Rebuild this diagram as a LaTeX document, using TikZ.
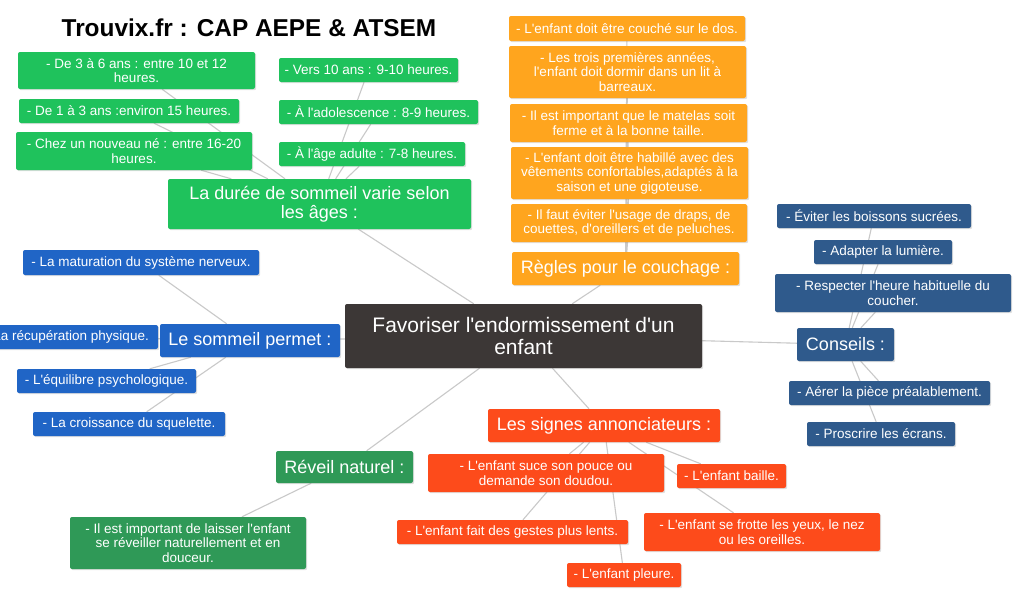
\documentclass[tikz,border=0pt]{standalone}
\usepackage{fontspec}
\setmainfont{Liberation Sans}[Ligatures=TeXOff]
\usepackage{tikz}
\usepackage{xcolor}
\usetikzlibrary{shadows, backgrounds}
\definecolor{agegreen}{HTML}{1FC25C}
\definecolor{bedorange}{HTML}{FFA51E}
\definecolor{tipblue}{HTML}{2F5A8C}
\definecolor{sleepblue}{HTML}{2065C6}
\definecolor{signred}{HTML}{FD4B1B}
\definecolor{wakegreen}{HTML}{2F9957}
\definecolor{rootgray}{HTML}{3C3736}
\definecolor{linegray}{HTML}{C9C9C9}

\begin{document}
\begin{tikzpicture}[x=1pt, y=-1pt,
    box/.style={rounded corners=2pt, inner sep=0pt, align=center, text=white,
      font=\fontsize{13.5}{14.5}\selectfont,
      drop shadow={shadow xshift=1.2pt, shadow yshift=-1.2pt, opacity=0.25}},
    hub/.style={box, font=\fontsize{18}{19.5}\selectfont},
    wh/.style 2 args={minimum width=#1pt, minimum height=#2pt},
    link/.style={draw=linegray, line width=1.1pt}]
    \useasboundingbox (0,0) rectangle (1024,598);

    \node[font=\fontsize{24.4}{26}\selectfont\bfseries] (title) at (249,28) {Trouvix.fr : CAP AEPE \& ATSEM};

    % root
    \node[box, fill=rootgray, wh={357}{64}, font=\fontsize{21}{21.5}\selectfont] (root) at (523.5,336)
      {Favoriser l'endormissement d'un\\enfant};

    % durée du sommeil
    \node[hub, fill=agegreen, wh={303}{50}] (gmain) at (319.5,204) {La durée de sommeil varie selon\\les âges :};
    \node[box, fill=agegreen, wh={237}{37}] (g1) at (136.5,70.5) {- De 3 à 6 ans : entre 10 et 12\\heures.};
    \node[box, fill=agegreen, wh={220}{24}] (g2) at (129,111) {- De 1 à 3 ans :environ 15 heures.};
    \node[box, fill=agegreen, wh={236}{38}] (g3) at (134,151) {- Chez un nouveau né : entre 16-20\\heures.};
    \node[box, fill=agegreen, wh={179}{24}] (g4) at (368.5,70) {- Vers 10 ans : 9-10 heures.};
    \node[box, fill=agegreen, wh={199}{24}] (g5) at (378.5,112) {- À l'adolescence : 8-9 heures.};
    \node[box, fill=agegreen, wh={186}{24}] (g6) at (372,154) {- À l'âge adulte : 7-8 heures.};

    % couchage
    \node[hub, fill=bedorange, wh={227}{33}] (omain) at (625.5,268.5) {Règles pour le couchage :};
    \node[box, fill=bedorange, wh={236}{25}] (o1) at (627,28.5) {- L'enfant doit être couché sur le dos.};
    \node[box, fill=bedorange, wh={237}{52}] (o2) at (627.5,72) {- Les trois premières années,\\l'enfant doit dormir dans un lit à\\barreaux.};
    \node[box, fill=bedorange, wh={237}{38}] (o3) at (628.5,123) {- Il est important que le matelas soit\\ferme et à la bonne taille.};
    \node[box, fill=bedorange, wh={237}{52}] (o4) at (629.5,173) {- L'enfant doit être habillé avec des\\vêtements confortables,adaptés à la\\saison et une gigoteuse.};
    \node[box, fill=bedorange, wh={236}{38}] (o5) at (629,223) {- Il faut éviter l'usage de draps, de\\couettes, d'oreillers et de peluches.};

    % conseils
    \node[hub, fill=tipblue, wh={97}{33}] (bmain) at (845.5,344.5) {Conseils :};
    \node[box, fill=tipblue, wh={194}{24}] (b1) at (874,216) {- Éviter les boissons sucrées.};
    \node[box, fill=tipblue, wh={138}{24}] (b2) at (883,252) {- Adapter la lumière.};
    \node[box, fill=tipblue, wh={236}{38}] (b3) at (893,293) {- Respecter l'heure habituelle du\\coucher.};
    \node[box, fill=tipblue, wh={201}{24}] (b4) at (889.5,393) {- Aérer la pièce préalablement.};
    \node[box, fill=tipblue, wh={148}{24}] (b5) at (881,434) {- Proscrire les écrans.};

    % le sommeil permet
    \node[hub, fill=sleepblue, wh={180}{33}] (lmain) at (250,340.5) {Le sommeil permet :};
    \node[box, fill=sleepblue, wh={236}{25}] (l1) at (141,262.5) {- La maturation du système nerveux.};
    \node[box, fill=sleepblue, wh={182}{24}] (l2) at (67,337) {- La récupération physique.};
    \node[box, fill=sleepblue, wh={179}{24}] (l3) at (106.5,381) {- L'équilibre psychologique.};
    \node[box, fill=sleepblue, wh={192}{24}] (l4) at (129,424) {- La croissance du squelette.};

    % signes
    \node[hub, fill=signred, wh={232}{33}] (rmain) at (604,425.5) {Les signes annonciateurs :};
    \node[box, fill=signred, wh={236}{38}] (r1) at (546,473) {- L'enfant suce son pouce ou\\demande son doudou.};
    \node[box, fill=signred, wh={109}{24}] (r2) at (731.5,476) {- L'enfant baille.};
    \node[box, fill=signred, wh={231}{24}] (r3) at (512.5,532) {- L'enfant fait des gestes plus lents.};
    \node[box, fill=signred, wh={236}{38}] (r4) at (762,532) {- L'enfant se frotte les yeux, le nez\\ou les oreilles.};
    \node[box, fill=signred, wh={114}{24}] (r5) at (624,575) {- L'enfant pleure.};

    % réveil
    \node[hub, fill=wakegreen, wh={137}{32}] (rev) at (344.5,467) {Réveil naturel :};
    \node[box, fill=wakegreen, wh={236}{52}] (rev1) at (188,543) {- Il est important de laisser l'enfant\\se réveiller naturellement et en\\douceur.};

    \begin{scope}[on background layer]
    \fill[white] (0,0) rectangle (1024,598);
    \draw[link] (root)--(gmain) (root)--(omain) (root)--(bmain) (root)--(lmain) (root)--(rmain) (root)--(rev);
    \draw[link] (gmain)--(g1) (gmain)--(g2) (gmain)--(g3) (gmain)--(g4) (gmain)--(g5) (gmain)--(g6);
    \draw[link] (omain)--(o1) (omain)--(o2) (omain)--(o3) (omain)--(o4) (omain)--(o5);
    \draw[link] (bmain)--(b1) (bmain)--(b2) (bmain)--(b3) (bmain)--(b4) (bmain)--(b5);
    \draw[link] (lmain)--(l1) (lmain)--(l2) (lmain)--(l3) (lmain)--(l4);
    \draw[link] (rmain)--(r1) (rmain)--(r2) (rmain)--(r3) (rmain)--(r4) (rmain)--(r5);
    \draw[link] (rev)--(rev1);
    \end{scope}
\end{tikzpicture}
\end{document}
